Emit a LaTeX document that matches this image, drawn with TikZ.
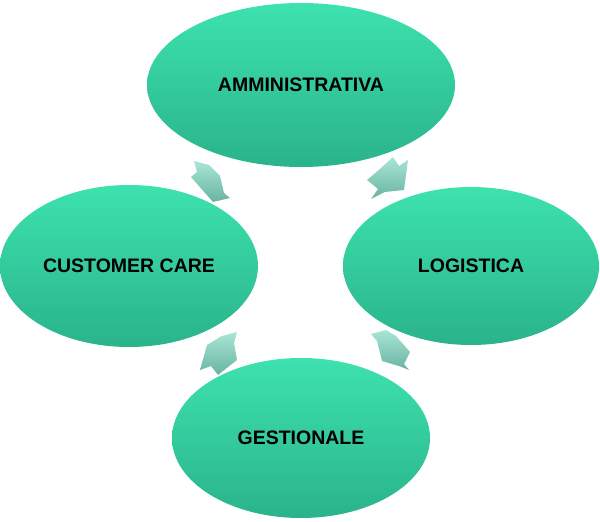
\documentclass[tikz,border=0pt]{standalone}
\usepackage{fontspec}
\setmainfont{Liberation Sans}
\usetikzlibrary{shapes.geometric}
\definecolor{eltop}{HTML}{3DE2AE}
\definecolor{elbot}{HTML}{2AB38B}
\definecolor{artop}{HTML}{A8E6D6}
\definecolor{arbot}{HTML}{6AB3A1}
\tikzset{
  phase/.style={ellipse, draw=none, top color=eltop, bottom color=elbot,
    inner sep=0pt, font=\fontsize{19.5}{22}\selectfont\bfseries, text=black},
  cyclearrow/.style={top color=artop, bottom color=arbot, draw=none}
}
\begin{document}
\begin{tikzpicture}[x=1pt,y=1pt]
\useasboundingbox (0,0) rectangle (600,522);
% block arrows
\path[cyclearrow] (194,361) -- (209,357) -- (220,346) -- (224,329) -- (230,324) -- (213,320) -- (191,345) -- (197,350) -- cycle;
\path[cyclearrow] (393,365) -- (399,356) -- (408,362) -- (404,332) -- (385,330) -- (371,323) -- (378,333) -- (367,342) -- (380,353) -- cycle;
\path[cyclearrow] (386,192) -- (396,186) -- (410,170) -- (404,158) -- (409,152) -- (399,156) -- (382,161) -- (377,181) -- (371,188) -- cycle;
\path[cyclearrow] (237,190) -- (222,186) -- (207,177) -- (200,152) -- (211,156) -- (218,147) -- (237,162) -- (234,179) -- cycle;
% ellipses
\node[phase, minimum width=308pt, minimum height=164pt] (adm) at (301,437) {AMMINISTRATIVA};
\node[phase, minimum width=258pt, minimum height=162pt] (cust) at (129,256) {CUSTOMER CARE};
\node[phase, minimum width=256pt, minimum height=158pt] (log) at (471,256) {LOGISTICA};
\node[phase, minimum width=258pt, minimum height=160pt] (gest) at (301,84) {GESTIONALE};
\end{tikzpicture}
\end{document}
